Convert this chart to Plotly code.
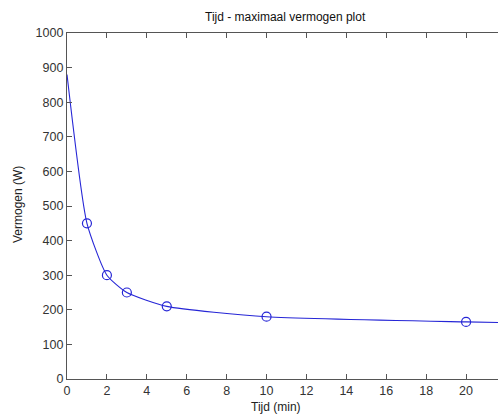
import plotly.graph_objects as go

# Measured maximal power per test duration
tijd_min = [1, 2, 3, 5, 10, 20]
vermogen_w = [450, 300, 250, 210, 180, 165]

# Fitted power-duration curve (knots used for the smooth line)
curve_tijd = [0, 1, 2, 3, 5, 10, 20, 22]
curve_vermogen = [880, 450, 300, 250, 210, 180, 165, 163]

x_ticks = list(range(0, 22, 2))
y_ticks = list(range(0, 1001, 100))

W, H = 498, 414
left, right, top, bottom = 67, 0, 33, 35

blue = "#2626d6"
axis_col = "#555555"
font_family = "Liberation Sans, Arial, sans-serif"

fig = go.Figure()
fig.add_trace(go.Scatter(
    x=curve_tijd, y=curve_vermogen, mode="lines",
    line=dict(color=blue, width=1.1, shape="spline", smoothing=0.55),
    hoverinfo="skip", showlegend=False,
))
fig.add_trace(go.Scatter(
    x=tijd_min, y=vermogen_w, mode="markers",
    marker=dict(symbol="circle-open", size=9, color=blue, line=dict(width=1.2, color=blue)),
    showlegend=False,
))

fig.update_layout(
    width=W, height=H,
    margin=dict(l=left, r=right, t=top, b=bottom, pad=0),
    paper_bgcolor="white", plot_bgcolor="white",
    font=dict(family=font_family, size=12, color="#222222"),
    xaxis=dict(
        range=[0, 21.6], tickmode="array", tickvals=x_ticks,
        ticktext=[str(v) for v in x_ticks],
        showline=True, linecolor=axis_col, linewidth=1.3, mirror="ticks",
        ticks="inside", ticklen=5, tickcolor=axis_col, tickwidth=1,
        showgrid=False, zeroline=False, tickfont=dict(size=12.5, color="#333333"),
    ),
    yaxis=dict(
        range=[0, 1000], tickmode="array", tickvals=y_ticks,
        ticktext=[str(v) for v in y_ticks],
        showline=True, linecolor=axis_col, linewidth=1.3, mirror=False,
        ticks="inside", ticklen=5, tickcolor=axis_col, tickwidth=1,
        showgrid=False, zeroline=False, tickfont=dict(size=12.5, color="#333333"),
    ),
    annotations=[
        dict(text="Tijd - maximaal vermogen plot", x=285.5 / W, y=1 - 17 / H,
             xref="paper", yref="paper", xanchor="center", yanchor="middle",
             showarrow=False, font=dict(size=12, color="#111111")),
        dict(text="Tijd (min)", x=276 / W, y=1 - 407 / H,
             xref="paper", yref="paper", xanchor="center", yanchor="middle",
             showarrow=False, font=dict(size=12, color="#222222")),
        dict(text="Vermogen (W)", x=18 / W, y=1 - 205 / H,
             xref="paper", yref="paper", xanchor="center", yanchor="middle",
             textangle=-90, showarrow=False, font=dict(size=12, color="#222222")),
    ],
)

# Annotation coordinates above are in figure fractions; convert to paper domain
for ann in fig.layout.annotations:
    px_x = ann.x * W
    px_y = (1 - ann.y) * H
    ann.x = (px_x - left) / (W - left - right)
    ann.y = (H - bottom - px_y) / (H - top - bottom)

fig.write_html("out.html")
